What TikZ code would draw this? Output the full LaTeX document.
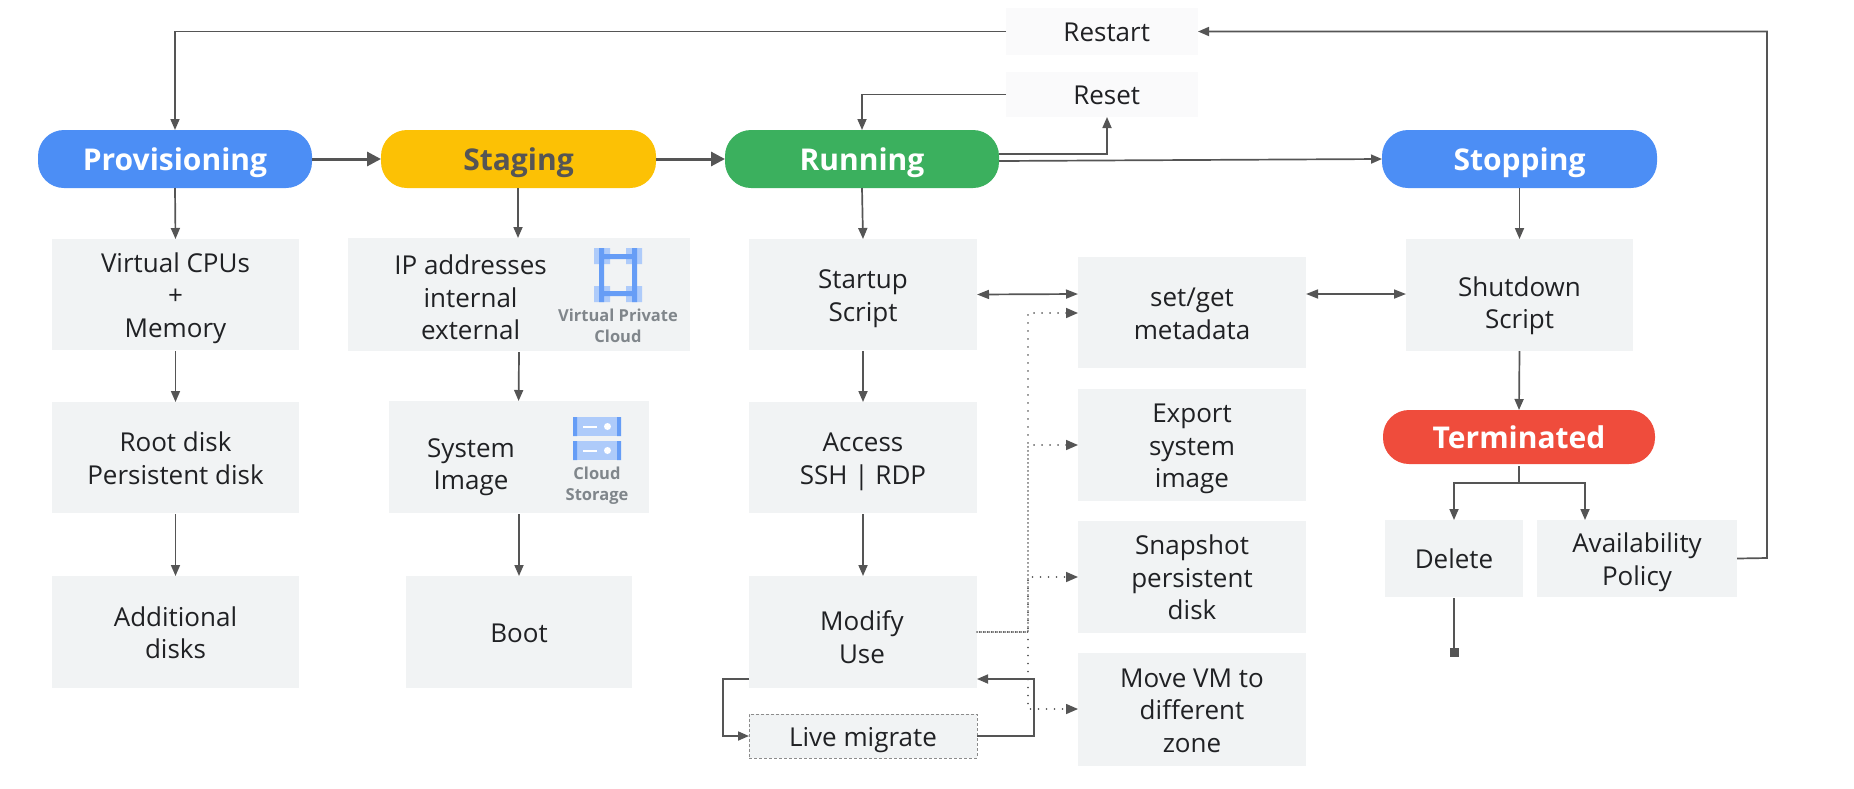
\documentclass[tikz,border=0pt]{standalone}
\usepackage{fontspec}
\setmainfont{Open Sans}
\usetikzlibrary{arrows.meta,calc}
\definecolor{boxfill}{HTML}{F1F3F4}
\definecolor{palefill}{HTML}{FAFAFB}
\definecolor{linec}{HTML}{555555}
\definecolor{inkc}{HTML}{202124}
\definecolor{gblue}{HTML}{4C8EF5}
\definecolor{gyellow}{HTML}{FCC105}
\definecolor{ggreen}{HTML}{3BB05E}
\definecolor{gred}{HTML}{EF4C3C}
\definecolor{iconlight}{HTML}{AECBFA}
\definecolor{icondark}{HTML}{669DF6}
\definecolor{icongrey}{HTML}{80868B}
\tikzset{
  x=1pt,y=-1pt,
  base/.style={inner sep=0pt,outer sep=0pt,align=center},
  boxfont/.style={base,text=inkc,font=\fontsize{26}{32.5}\selectfont},
  box/.style={boxfont,fill=boxfill},
  pale/.style={box,fill=palefill},
  dashbox/.style={box,draw=black!45,densely dashed,line width=0.7pt},
  pill/.style={base,rounded corners=26pt,text=white,font=\fontsize{30}{36}\selectfont\bfseries},
  conn/.style={draw=linec,line width=1.7pt,-{Triangle[length=11pt,width=9pt]}},
  plain/.style={draw=linec,line width=1.7pt},
  thick conn/.style={draw=linec,line width=3pt,-{Triangle[length=14pt,width=14pt]}},
  both/.style={draw=linec,line width=1.7pt,{Triangle[length=12pt,width=9pt]}-{Triangle[length=12pt,width=9pt]}},
  dotconn/.style={draw=linec,line width=1.6pt,line cap=round,dash pattern=on 0.1pt off 7.9pt,-{Triangle[length=12pt,width=10pt]}},
  iconlabel/.style={base,text=icongrey,font=\fontsize{16.5}{21}\selectfont\bfseries},
}
% text block centred on its cap height, whatever the descenders
\newcommand{\lab}[1]{\rule{0pt}{1.15em}#1\rule[-0.36em]{0pt}{0.36em}}
\newcommand{\placebox}[7][box]{%
  \pgfmathsetmacro{\cxx}{(#3+#5)/2}\pgfmathsetmacro{\cyy}{(#4+#6)/2}%
  \pgfmathsetmacro{\ww}{#5-#3}\pgfmathsetmacro{\hh}{#6-#4}%
  \node[#1,minimum width=\ww pt,minimum height=\hh pt] (#2) at (\cxx,\cyy) {\lab{#7}};}
\begin{document}
\begin{tikzpicture}
\useasboundingbox (0,0) rectangle (1854,788);
% pills
\placebox[pill,fill=gblue]{prov}{38}{130}{312}{188}{Provisioning}
\placebox[pill,fill=gyellow,text=linec]{stag}{381}{130}{656}{188}{Staging}
\placebox[pill,fill=ggreen]{runn}{725}{130}{999}{188}{Running}
\placebox[pill,fill=gblue]{stop}{1382}{130}{1657}{188}{Stopping}
\placebox[pill,fill=gred]{term}{1383}{410}{1655}{464}{Terminated}
% top
\placebox[pale]{restart}{1006}{8}{1198}{55}{}
\node[boxfont] (restarttext) at (1106.7,31.5) {\lab{Restart}};
\placebox[pale]{reset}{1006}{72}{1198}{117}{}
\node[boxfont] (resettext) at (1106.7,94.5) {\lab{Reset}};
% col 1
\placebox{cpu}{52}{239}{299}{350}{Virtual CPUs\\+\\Memory}
\placebox{root}{52}{402}{299}{513}{Root disk\\Persistent disk}
\placebox{addl}{52}{576}{299}{688}{Additional\\disks}
% col 2
\placebox{ipbox}{348}{238}{690}{351}{}
\node[boxfont] (iptext) at (470.6,296.8) {\lab{IP addresses\\internal\\external}};
\placebox{sysbox}{389}{401}{649}{513}{}
\node[boxfont] (systext) at (471,463) {\lab{System\\Image}};
\placebox{boot}{406}{576}{632}{688}{Boot}
% col 3
\placebox{startup}{749}{239}{977}{350}{Startup\\Script}
\placebox{access}{749}{402}{977}{513}{Access\\SSH | RDP}
\placebox{modify}{749}{576}{977}{688}{}
\node[boxfont] (modifytext) at (862,636.7) {\lab{Modify\\Use}};
\placebox[dashbox]{live}{749}{714}{977}{758}{Live migrate}
% col 4
\placebox{meta}{1078}{257}{1306}{368}{set/get\\metadata}
\placebox{export}{1078}{389}{1306}{501}{Export\\system\\image}
\placebox{snap}{1078}{521}{1306}{633}{Snapshot\\persistent\\disk}
\placebox{move}{1078}{653}{1306}{766}{Move VM to\\different\\zone}
% right
\placebox{shut}{1406}{239}{1633}{351}{}
\node[boxfont] (shuttext) at (1519.5,302) {\lab{Shutdown\\Script}};
\placebox{del}{1385}{520}{1523}{597}{Delete}
\placebox{avail}{1537}{520}{1737}{597}{Availability\\Policy}
% VPC icon
\fill[iconlight] (594,248) rectangle (610,264) (626,248) rectangle (642,264)
                 (594,286) rectangle (610,302) (626,286) rectangle (642,302);
\fill[icondark] (599,248) rectangle (604,302) (632,248) rectangle (637,302)
                (604,254) rectangle (632,259) (604,291) rectangle (632,296);
\node[iconlabel] (vpclabel) at (618,326) {Virtual Private\\Cloud};
% storage icon
\foreach \yy in {417,441}{
  \fill[iconlight] (573,\yy) rectangle (621,\yy+19);
  \fill[icondark] (573,\yy) rectangle (577,\yy+19) (617,\yy) rectangle (621,\yy+19);
  \fill[white] (583,\yy+8.5) rectangle (597,\yy+10.5);
  \fill[white] (607.5,\yy+9.5) circle (3.5);
}
\node[iconlabel] (gcslabel) at (597,486) {Cloud\\Storage};
% main flow
\draw[thick conn] (prov.east) -- (stag.west);
\draw[thick conn] (stag.east) -- (runn.west);
\coordinate (runA) at ([yshift=5pt]runn.east);
\coordinate (runB) at ([yshift=-2pt]runn.east);
\coordinate (resetin) at ([xshift=5pt]reset.south);
\draw[conn] (runA) -| (resetin);
\draw[conn] (runB) -- (stop.west);
% restart / reset
\coordinate (restartturn) at (prov.north |- restart.west);
\draw[conn] (restart.west) -- (restartturn) -- (prov.north);
\coordinate (resetleft) at (reset.west);
\draw[conn] (resetleft) -| (runn.north);
\coordinate (availout) at (avail.east);
\coordinate (farright) at (1767,558);
\coordinate (farup) at (farright |- restart.east);
\draw[conn] (availout) -- (farright) -- (farup) -- (restart.east);
% verticals
\draw[conn] (prov.south) -- (cpu.north);
\draw[conn] ([yshift=-1pt]cpu.south) -- (root.north);
\draw[conn] ([yshift=-1pt]root.south) -- (addl.north);
\coordinate (stagdown) at (518,188);
\draw[conn] (stagdown) -- (stagdown |- ipbox.north);
\coordinate (ipdown) at (519,352);
\draw[conn] (ipdown) -- (518.6,401);
\draw[conn] ([yshift=-1pt]sysbox.south) -- (boot.north -| sysbox.south);
\draw[conn] (runn.south) -- (startup.north);
\draw[conn] ([yshift=-1pt]startup.south) -- (access.north);
\draw[conn] ([yshift=-1pt]access.south) -- (modify.north);
\draw[conn] (stop.south) -- (shut.north);
\draw[conn] (shut.south) -- (term.north);
% metadata links
\coordinate (metaL) at (meta.west |- 0,294);
\coordinate (metaR) at (meta.east |- 0,294);
\draw[both] (startup.east) -- (metaL);
\draw[both] (metaR) -- (shut.west |- metaR);
% terminated fork
\coordinate (forkT) at ([yshift=-2pt]term.south);
\coordinate (forkM) at (forkT |- 0,483);
\coordinate (forkAv) at (1585,483);
\draw[plain] (forkT) -- (forkM);
\draw[conn] (forkM) -| (del.north);
\draw[conn] (forkM) -- (forkAv) -- (forkAv |- avail.north);
% delete end
\coordinate (delend) at (del.south |- 0,652);
\draw[plain] ([yshift=-1pt]del.south) -- (delend);
\fill[linec] ($(delend)+(-4.5,-4.5)$) rectangle ($(delend)+(4.5,4.5)$);
% live migrate loop
\coordinate (modL) at (modify.west |- 0,679);
\coordinate (modR) at (modify.east |- 0,679);
\coordinate (loopL) at (723,679);
\coordinate (loopR) at (1034,736);
\draw[conn] (modL) -- (loopL) |- (live.west);
\draw[conn] (live.east) -- (loopR) |- (modR);
% dotted links
\coordinate (dotA) at (1028,632);
\draw[dotconn,dash phase=0pt] (modify.east |- dotA) -- (dotA) |- (meta.west |- 0,313);
\draw[dotconn,dash phase=4pt] (modify.east |- dotA) -- (dotA) |- (export.west |- 0,445);
\draw[dotconn,dash phase=1.5pt] (modify.east |- dotA) -- (dotA) |- (snap.west |- 0,577);
\draw[dotconn,dash phase=5.5pt] (modify.east |- dotA) -- (dotA) |- (move.west |- 0,709);
\end{tikzpicture}
\end{document}
